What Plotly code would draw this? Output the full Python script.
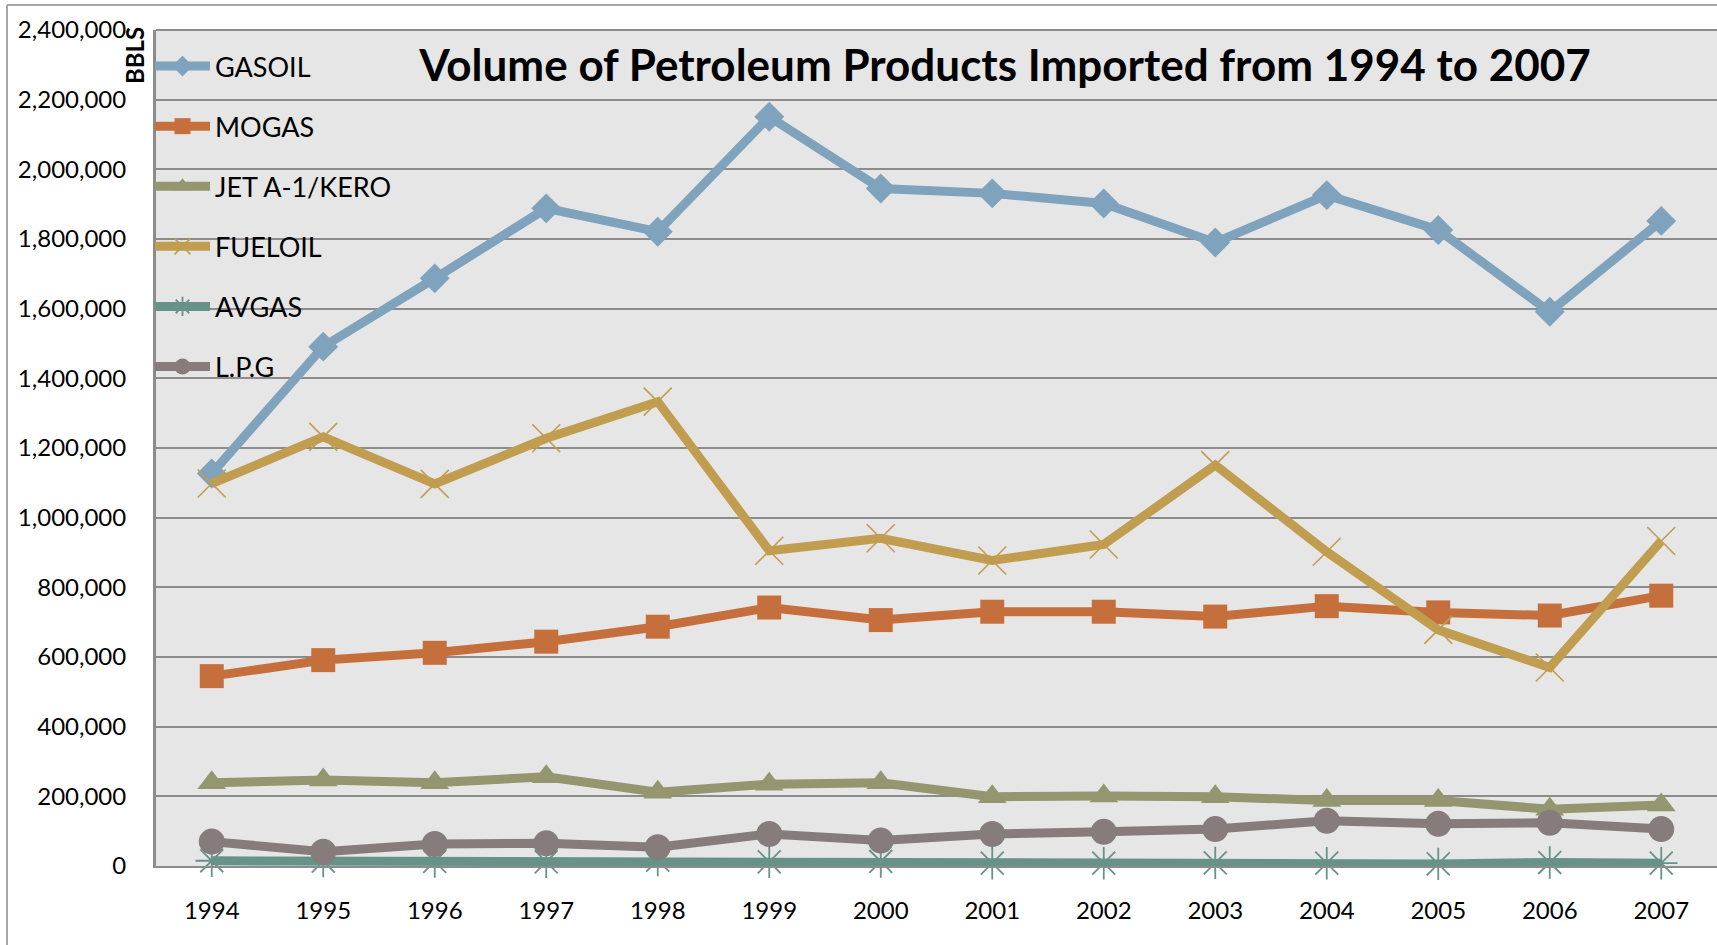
import plotly.graph_objects as go

# ---------------- data ----------------
years = ["1994", "1995", "1996", "1997", "1998", "1999", "2000",
         "2001", "2002", "2003", "2004", "2005", "2006", "2007"]

gasoil = [1127000, 1491000, 1687000, 1888000, 1821000, 2151000, 1945000,
          1931000, 1902000, 1790000, 1926000, 1826000, 1591000, 1852000]
mogas = [545000, 591000, 612000, 644000, 687000, 742000, 706000,
         730000, 730000, 716000, 746000, 728000, 719000, 776000]
jet = [239000, 247000, 239000, 256000, 212000, 235000, 239000,
       199000, 201000, 199000, 188000, 188000, 163000, 175000]
fueloil = [1098000, 1232000, 1097000, 1228000, 1333000, 905000, 941000,
           877000, 923000, 1151000, 902000, 678000, 570000, 933000]
avgas = [15000, 14000, 13000, 12000, 17000, 12000, 13000,
         8000, 8000, 9000, 8000, 6000, 10000, 8000]
lpg = [70000, 41000, 63000, 65000, 54000, 92000, 73000,
       92000, 98000, 106000, 130000, 121000, 124000, 106000]

series_names = ["GASOIL", "MOGAS", "JET A-1/KERO", "FUELOIL", "AVGAS", "L.P.G"]
series_values = [gasoil, mogas, jet, fueloil, avgas, lpg]

y_tick_vals = [0, 200000, 400000, 600000, 800000, 1000000, 1200000,
               1400000, 1600000, 1800000, 2000000, 2200000, 2400000]

title_text = "Volume of Petroleum Products Imported from 1994 to 2007"
y_title = "BBLS"

# ---------------- styles ----------------
colors = ["#7FA2BD", "#C5703C", "#93966E", "#C19D50", "#679288", "#857C7B"]
symbols = ["diamond", "square", "triangle-up", "x-thin-open", "asterisk-open", "circle"]
sizes = [23, 24, 25, 28, 27, 26]
mline = [0, 0, 0, 1.6, 1.8, 0]

W, H = 1717, 945
ML, MR, MT, MB = 156, 0, 30, 79
PW, PH = W - ML - MR, H - MT - MB


def px_x(x):
    return (x - ML) / PW


def px_y(y):
    return 1 - (y - MT) / PH


FONT = "Lato"

fig = go.Figure()
for i, (name, vals) in enumerate(zip(series_names, series_values)):
    fig.add_trace(go.Scatter(
        x=years, y=vals, name=name, mode="lines+markers",
        legendgroup=name, cliponaxis=False,
        line=dict(color=colors[i], width=9),
        marker=dict(symbol=symbols[i], size=sizes[i], color=colors[i],
                    line=dict(width=mline[i], color=colors[i])),
    ))

fig.update_layout(
    width=W, height=H,
    margin=dict(l=ML, r=MR, t=MT, b=MB, pad=0),
    paper_bgcolor="white",
    plot_bgcolor="#E6E6E6",
    font=dict(family=FONT, color="black"),
    title=dict(text="<b>" + title_text + "</b>", xref="container", yref="container",
               x=1005 / W, xanchor="center", y=1 - 66 / H, yanchor="middle",
               font=dict(family=FONT, size=44, color="black")),
    showlegend=True,
    legend=dict(x=px_x(150), xanchor="left", y=px_y(42), yanchor="top",
                bgcolor="rgba(0,0,0,0)", borderwidth=0,
                font=dict(family=FONT, size=27, color="black"),
                itemwidth=55, tracegroupgap=22, traceorder="grouped"),
    xaxis=dict(type="category", range=[-0.5, 13.5], showgrid=False,
               showline=True, linecolor="#8C8C8C", linewidth=2,
               ticks="", tickfont=dict(family=FONT, size=24, color="black"),
               ticklabelstandoff=22, zeroline=False, fixedrange=True),
    yaxis=dict(range=[0, 2400000], tickvals=y_tick_vals, tickformat=",d",
               showgrid=True, gridcolor="#8C8C8C", gridwidth=2,
               showline=True, linecolor="#8C8C8C", linewidth=3,
               ticks="", tickfont=dict(family=FONT, size=24, color="black"),
               ticklabelstandoff=22, zeroline=False, fixedrange=True),
    annotations=[dict(text="<b>" + y_title + "</b>", xref="paper", yref="paper",
                      x=px_x(134), y=px_y(56), xanchor="center", yanchor="middle",
                      textangle=-90, showarrow=False,
                      font=dict(family=FONT, size=24, color="black"))],
    shapes=[
        dict(type="line", xref="paper", yref="paper",
             x0=px_x(7), x1=px_x(W + 10), y0=px_y(5), y1=px_y(5),
             line=dict(color="#A6A6A6", width=2)),
        dict(type="line", xref="paper", yref="paper",
             x0=px_x(7), x1=px_x(7), y0=px_y(5), y1=px_y(H + 10),
             line=dict(color="#A6A6A6", width=2)),
        dict(type="line", xref="paper", yref="paper",
             x0=0, x1=1, y0=1, y1=1,
             line=dict(color="#8C8C8C", width=2), layer="below"),
    ],
)

fig.write_html(
    "out.html",
    config={"displayModeBar": False},
    post_script="document.body.style.margin='0';document.body.style.overflow='hidden';",
)
